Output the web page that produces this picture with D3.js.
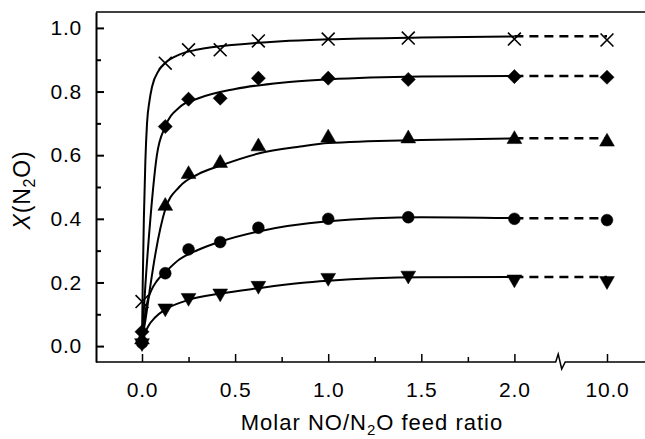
<!DOCTYPE html>
<html>
<head>
  <meta charset="utf-8">
  <title>X(N2O) vs molar NO/N2O feed ratio</title>
  <script src="https://d3js.org/d3.v7.min.js"></script>
  <style>
    body { margin: 0; background: #fff; }
    svg text { font-family: "Liberation Sans", Arial, sans-serif; fill: #000; }
  </style>
</head>
<body>
<div id="chart"></div>
<script>
// feed ratios of the measured points (10.0 sits behind the axis break)
var ratios = [0, 0.125, 0.25, 0.42, 0.625, 1.0, 1.43, 2.0, 10.0];

var crossVals    = [0.14, 0.889, 0.931, 0.931, 0.959, 0.965, 0.968, 0.965, 0.962];
var diamondVals  = [0.045, 0.69, 0.776, 0.779, 0.842, 0.842, 0.838, 0.847, 0.845];
var triangleVals = [0.02, 0.44, 0.54, 0.575, 0.627, 0.655, 0.652, 0.65, 0.642];
var circleVals   = [0.01, 0.229, 0.304, 0.327, 0.372, 0.40, 0.405, 0.40, 0.396];
var invTriVals   = [0.01, 0.119, 0.152, 0.166, 0.19, 0.215, 0.222, 0.21, 0.205];

// fitted curves as [ratio, X] pairs
var crossFit = [[0,0.02],[0.004,0.2],[0.01,0.4],[0.018,0.58],[0.027,0.7],[0.04,0.77],[0.054,0.815],
  [0.09,0.866],[0.125,0.89],[0.2,0.916],[0.3,0.932],[0.5,0.947],[0.75,0.958],[1.0,0.964],[1.5,0.97],[2.0,0.973]];
var diamondFit = [[0,0.02],[0.018,0.19],[0.045,0.4],[0.08,0.6],[0.125,0.69],[0.2,0.75],[0.3,0.778],
  [0.5,0.808],[0.75,0.828],[1.0,0.838],[1.5,0.847],[2.0,0.849]];
var triangleFit = [[0,0.02],[0.018,0.08],[0.045,0.19],[0.072,0.29],[0.125,0.43],[0.2,0.5],[0.3,0.54],
  [0.42,0.567],[0.625,0.605],[0.85,0.627],[1.0,0.638],[1.5,0.648],[2.0,0.653]];
var circleFit = [[0,0.02],[0.01,0.07],[0.025,0.13],[0.05,0.175],[0.08,0.205],[0.125,0.232],[0.2,0.272],
  [0.3,0.302],[0.42,0.328],[0.625,0.36],[1.0,0.392],[1.5,0.405],[2.0,0.402]];
var invTriFit = [[0,0.02],[0.015,0.04],[0.036,0.065],[0.07,0.09],[0.125,0.115],[0.25,0.145],[0.42,0.165],
  [0.625,0.182],[0.85,0.198],[1.0,0.205],[1.5,0.216],[2.0,0.217]];

// level of the dashed tail from 2.0 to 10.0
var tailLevels = [0.974, 0.849, 0.653, 0.402, 0.217];

var xMajor = [0, 0.5, 1.0, 1.5, 2.0, 10.0];
var xMinor = [0.25, 0.75, 1.25, 1.75];
var yMajor = [0, 0.2, 0.4, 0.6, 0.8, 1.0];
var yMinor = [0.1, 0.3, 0.5, 0.7, 0.9];

var W = 645, H = 439;
var padL = 96, padT = 12, axisY = 362;

var svg = d3.select("#chart").append("svg")
  .attr("width", W).attr("height", H);

// broken x axis: 0..2 linear, 10.0 placed after the break
var x = d3.scaleLinear().domain([0, 2, 10]).range([142, 514.4, 607]);
var y = d3.scaleLinear().domain([-0.05, 1.05]).range([axisY, padT]);

// top frame line
svg.append("line")
  .attr("x1", padL).attr("x2", W).attr("y1", padT).attr("y2", padT)
  .attr("stroke", "#000").attr("stroke-width", 1.5);

// y axis
var yAx = svg.append("g").attr("transform", "translate(" + padL + ",0)")
  .call(d3.axisLeft(y).tickValues(yMajor).tickSize(-8).tickSizeOuter(0)
    .tickPadding(14).tickFormat(d3.format(".1f")));
yAx.select(".domain").attr("stroke-width", 2);
yAx.selectAll(".tick line").attr("stroke-width", 2);
yAx.selectAll("text").style("font-size", "21px").style("letter-spacing", "0.8px");

svg.append("g").attr("transform", "translate(" + padL + ",0)")
  .call(d3.axisLeft(y).tickValues(yMinor).tickSize(-5).tickFormat(""))
  .call(g => g.select(".domain").remove())
  .selectAll(".tick line").attr("stroke-width", 2);

// x axis
var xAx = svg.append("g").attr("transform", "translate(0," + axisY + ")")
  .call(d3.axisBottom(x).tickValues(xMajor).tickSize(-8).tickSizeOuter(0)
    .tickPadding(20).tickFormat(d3.format(".1f")));
xAx.select(".domain").remove();
xAx.selectAll(".tick line").attr("stroke-width", 1.5);
xAx.selectAll("text").style("font-size", "21px").style("letter-spacing", "0.8px");

svg.append("g").attr("transform", "translate(0," + axisY + ")")
  .call(d3.axisBottom(x).tickValues(xMinor).tickSize(-5).tickFormat(""))
  .call(g => g.select(".domain").remove())
  .selectAll(".tick line").attr("stroke-width", 1.5);

// x axis line with the break zigzag midway between 2.0 and 10.0
var bx = x(6);
svg.append("path")
  .attr("d", "M" + padL + "," + axisY + "H" + (bx - 5) +
    "L" + (bx - 2.5) + "," + (axisY - 8) +
    "L" + (bx + 1) + "," + (axisY + 7) +
    "L" + (bx + 4.5) + "," + axisY + "H" + W)
  .attr("fill", "none").attr("stroke", "#000").attr("stroke-width", 1.5);

// axis titles
var xt = svg.append("text")
  .attr("x", 372).attr("y", 430).attr("text-anchor", "middle")
  .style("font-size", "22px").style("letter-spacing", "1px");
xt.append("tspan").text("Molar NO/N");
xt.append("tspan").attr("dy", 5).style("font-size", "15px").text("2");
xt.append("tspan").attr("dy", -5).text("O feed ratio");

var yt = svg.append("text")
  .attr("transform", "translate(30,190) rotate(-90)")
  .attr("text-anchor", "middle")
  .style("font-size", "23px").style("letter-spacing", "0.8px");
yt.append("tspan").style("font-style", "italic").text("X");
yt.append("tspan").text("(N");
yt.append("tspan").attr("dy", 5).style("font-size", "16px").text("2");
yt.append("tspan").attr("dy", -5).text("O)");

// series
var series = [
  { vals: crossVals,    fit: crossFit,    tail: tailLevels[0], sym: d3.symbolTimes,    size: 110, rot: 0,   stroke: true },
  { vals: diamondVals,  fit: diamondFit,  tail: tailLevels[1], sym: d3.symbolSquare,   size: 100, rot: 45,  stroke: false },
  { vals: triangleVals, fit: triangleFit, tail: tailLevels[2], sym: d3.symbolTriangle, size: 95,  rot: 0,   stroke: false },
  { vals: circleVals,   fit: circleFit,   tail: tailLevels[3], sym: d3.symbolCircle,   size: 110, rot: 0,   stroke: false },
  { vals: invTriVals,   fit: invTriFit,   tail: tailLevels[4], sym: d3.symbolTriangle, size: 95,  rot: 180, stroke: false }
];

var line = d3.line()
  .x(d => x(d[0])).y(d => y(d[1]))
  .curve(d3.curveMonotoneX);

series.forEach(function(s) {
  svg.append("path")
    .attr("d", line(s.fit))
    .attr("fill", "none").attr("stroke", "#000").attr("stroke-width", 2);

  svg.append("path")
    .attr("d", d3.line()([[x(2), y(s.tail)], [x(10), y(s.tail)]]))
    .attr("fill", "none").attr("stroke", "#000").attr("stroke-width", 2.5)
    .attr("stroke-dasharray", "9,6");

  svg.append("g").selectAll("path")
    .data(s.vals).enter().append("path")
    .attr("d", d3.symbol().type(s.sym).size(s.size))
    .attr("transform", (d, i) => "translate(" + x(ratios[i]) + "," + y(d) + ") rotate(" + s.rot + ")")
    .attr("fill", s.stroke ? "none" : "#000")
    .attr("stroke", "#000")
    .attr("stroke-width", s.stroke ? 1.6 : 0.5);
});
</script>
</body>
</html>
